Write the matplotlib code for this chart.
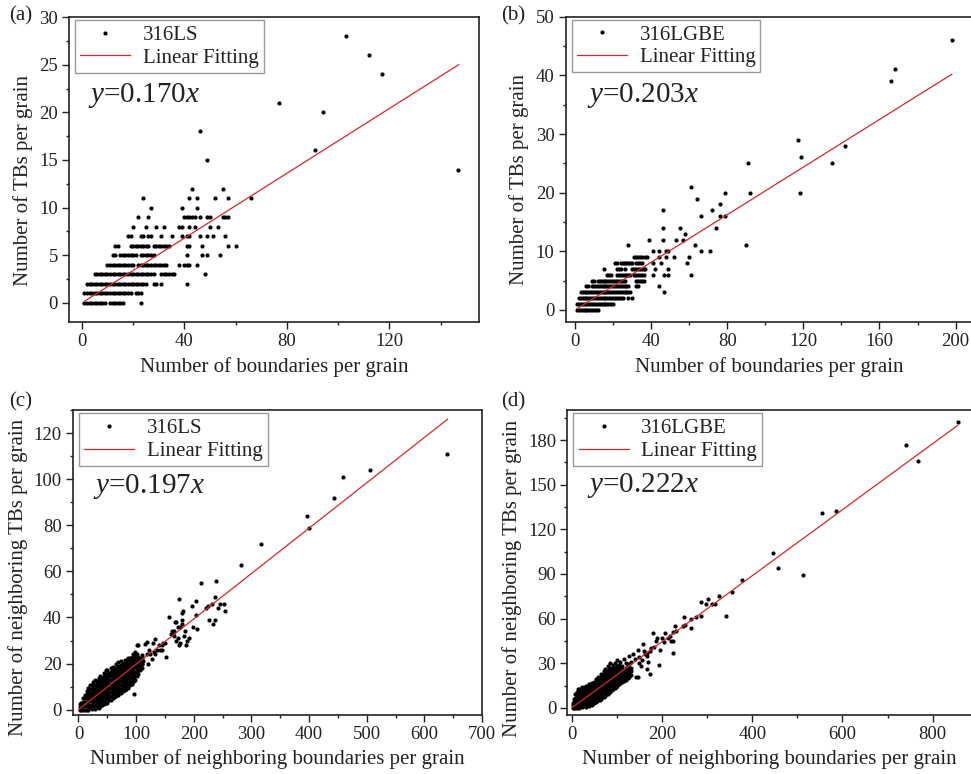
import matplotlib.pyplot as plt
from matplotlib.ticker import MultipleLocator

plt.rcParams['font.family'] = ['Liberation Serif', 'DejaVu Serif']
plt.rcParams['mathtext.fontset'] = 'custom'
plt.rcParams['mathtext.rm'] = 'Liberation Serif'
plt.rcParams['mathtext.it'] = 'Liberation Serif:italic'

# ---- (a) 316LS: TBs vs boundaries (integer counts, x listed per y level) ----
a_levels = [0, 1, 2, 3, 4, 5, 6, 7, 8, 9, 10, 11, 12, 14, 15, 16, 18, 20, 21, 24, 26, 28]
a_x_at_level = [
    [1, 2, 3, 4, 5, 6, 7, 8, 9, 11, 12, 13, 14, 15, 16, 23],
    [1, 2, 3, 4, 5, 6, 7, 8, 9, 10, 11, 12, 13, 14, 15, 16, 17, 18, 19, 21, 22, 23],
    [2, 3, 4, 5, 6, 7, 8, 9, 10, 11, 12, 13, 14, 15, 16, 17, 18, 19, 20, 21, 22, 23, 24, 25, 28, 29, 31, 41],
    [5, 6, 7, 8, 9, 10, 11, 12, 13, 14, 15, 16, 17, 18, 19, 20, 21, 22, 23, 24, 25, 26, 27, 28, 31, 32, 33, 34, 35, 36, 48],
    [10, 11, 12, 13, 14, 15, 16, 17, 18, 19, 20, 22, 23, 24, 25, 26, 27, 28, 29, 30, 31, 32, 33, 38, 40, 41, 42, 45],
    [12, 13, 15, 16, 17, 18, 19, 20, 21, 23, 24, 25, 26, 27, 28, 41, 47, 49, 54],
    [13, 14, 19, 20, 21, 22, 23, 24, 25, 26, 28, 29, 30, 31, 32, 33, 34, 41, 42, 47, 57, 60],
    [18, 19, 23, 24, 26, 27, 31, 35, 39, 41, 42, 46, 49, 51, 56],
    [20, 25, 29, 32, 38, 39, 42, 44, 50, 53],
    [22, 26, 40, 41, 42, 43, 44, 46, 49, 50, 55, 56, 57],
    [27, 39, 45],
    [24, 42, 45, 52, 57, 66],
    [43, 55],
    [147],
    [49],
    [91],
    [46],
    [94],
    [77],
    [117],
    [112],
    [103],
]
a_slope = 0.170
a_fit_x = [1, 147]

# ---- (b) 316LGBE: TBs vs boundaries ----
b_levels = [0, 1, 2, 3, 4, 5, 6, 7, 8, 9, 10, 11, 12, 13, 14, 16, 17, 18, 19, 20, 21, 25, 26, 28, 29, 39, 41, 46]
b_x_at_level = [
    [1, 2, 3, 4, 5, 6, 7, 8, 9, 10, 11, 12],
    [1, 2, 3, 4, 5, 6, 7, 8, 9, 10, 11, 12, 13, 14, 15, 16, 17, 18, 19, 20],
    [2, 3, 4, 5, 6, 7, 8, 9, 10, 11, 12, 13, 14, 15, 16, 17, 18, 19, 20, 21, 22, 23, 24, 25, 28, 30],
    [3, 4, 5, 6, 7, 8, 9, 10, 11, 12, 13, 14, 15, 16, 17, 18, 19, 20, 21, 22, 23, 24, 25, 26, 27, 28, 29, 47],
    [6, 7, 9, 10, 11, 12, 13, 14, 15, 16, 17, 18, 19, 20, 21, 22, 23, 24, 25, 26, 27, 28, 32, 33, 44],
    [9, 10, 12, 13, 14, 15, 16, 17, 18, 19, 20, 21, 22, 23, 24, 25, 26, 32, 33, 34, 35, 36],
    [17, 18, 19, 22, 23, 24, 25, 26, 27, 28, 29, 31, 32, 33, 34, 35, 36, 41, 47, 49, 61],
    [15, 22, 23, 24, 26, 30, 31, 32, 33, 34, 35, 36, 37, 42, 49],
    [21, 22, 24, 25, 26, 27, 28, 29, 30, 32, 33, 34, 35, 41, 45, 59],
    [31, 32, 33, 34, 35, 37, 38, 44, 48, 52, 60],
    [41, 44, 48, 49, 66, 71],
    [28, 63, 90],
    [39, 46, 53, 57],
    [58],
    [46, 55, 74],
    [66, 76, 79],
    [46, 72],
    [76],
    [64],
    [79, 92, 118],
    [61],
    [91, 135],
    [119],
    [142],
    [117],
    [166],
    [168],
    [198],
]
b_slope = 0.203
b_fit_x = [1, 198]

# ---- (c) 316LS: neighboring TBs vs neighboring boundaries ----
c_col_x = [2, 5, 8, 11, 14, 17, 20, 23, 26, 29, 32, 35, 38, 41, 44, 47, 50, 53, 56,
           59, 62, 65, 68, 71, 74, 77, 80, 83, 86, 89, 92, 95, 98, 101, 104, 107, 110]
c_col_y = [
    [0, 1.2, 2.3],
    [0, 1.4, 3],
    [0, 1.6, 3.3, 5],
    [0, 1.6, 3.2, 4.9, 6.5],
    [0, 1.7, 3.3, 5, 6.6, 8],
    [0, 1.8, 3.5, 5.3, 7, 8.2, 9.2],
    [0.5, 2.2, 4, 5.7, 7.4, 9, 10.5],
    [0.2, 1.9, 3.6, 5.4, 7.1, 8.8, 10.8],
    [0.5, 2.3, 4, 5.8, 7.5, 9.2, 10.7, 12],
    [0.3, 2, 3.8, 5.5, 7.2, 9, 10.6, 12.8],
    [1, 2.7, 4.5, 6.2, 7.9, 9.6, 11.2, 12.5],
    [0.5, 2.2, 4, 5.7, 7.4, 9.1, 10.8, 12.4, 13.8],
    [1.5, 3.2, 5, 6.7, 8.4, 10.1, 11.8, 13.3, 14.5],
    [2, 3.7, 5.5, 7.2, 8.9, 10.6, 12.2, 13.5],
    [2.5, 4.2, 6, 7.7, 9.4, 11.1, 12.8, 14.5, 16],
    [3, 4.8, 6.5, 8.2, 9.9, 11.6, 13.3, 15, 17],
    [3, 4.9, 6.7, 8.5, 10.2, 12, 13.7, 15.5, 17.2],
    [4, 5.8, 7.5, 9.2, 11, 12.7, 14.4, 15.8],
    [4.2, 6, 7.8, 9.5, 11.3, 13, 14.7, 16.4, 18],
    [5, 6.8, 8.5, 10.2, 12, 13.7, 15.4, 17, 18.5],
    [5.5, 7.3, 9, 10.8, 12.5, 14.2, 15.9, 17.5],
    [6, 7.8, 9.5, 11.3, 13, 14.7, 16.4, 18.2, 20],
    [6.2, 8, 9.8, 11.5, 13.3, 15, 16.8, 18.6, 20.5],
    [7, 8.8, 10.5, 12.3, 14, 15.7, 17.4, 19],
    [7.2, 9, 10.8, 12.6, 14.3, 16, 17.7, 19.4, 21],
    [8, 9.8, 11.5, 13.3, 15, 16.7, 18.4, 20],
    [8.5, 10.3, 12, 13.8, 15.5, 17.2, 19, 20.5, 21.5],
    [9, 10.8, 12.6, 14.3, 16, 17.8, 19.5, 21],
    [9.5, 11.3, 13, 14.8, 16.5, 18.2, 20, 21.5, 22.5],
    [10.5, 12.3, 14, 15.7, 17.5, 19.2, 21, 22.2],
    [11, 12.8, 14.5, 16.3, 18, 19.7, 21.4, 23],
    [12, 13.8, 15.6, 17.3, 19, 20.7, 22.4, 24],
    [13, 14.8, 16.5, 18.3, 20, 21.7, 23.4, 25],
    [14.5, 16.3, 18, 19.8, 21.5, 23, 24],
    [15.5, 17.3, 19, 20.8, 23],
    [17, 18.8, 20.5, 22],
    [18, 20, 21.8, 23.5],
]
c_sparse_x = [96, 101, 104, 107, 110, 110, 112, 116, 118, 119, 121, 122, 124, 127, 130, 131, 132,
              133, 136, 139, 141, 145, 145, 147, 150, 152, 157, 160, 162, 164, 166, 166, 168, 170,
              170, 172, 173, 174, 175, 176, 176, 179, 180, 180, 181, 183, 184, 186, 188, 191, 197,
              198, 203, 204, 206, 212, 222, 225, 226, 232, 233, 237, 237, 238, 242, 246, 253, 254,
              282, 317, 396, 400, 444, 459, 506, 640]
c_sparse_y = [6.8, 28, 28, 19, 20, 23, 21, 28.5, 24, 29.5, 20, 26, 24, 22, 29, 25, 30.5,
              24, 26, 28, 26, 26, 28, 29, 29, 23, 40, 33, 34, 33, 34, 32, 38, 38,
              30, 36, 31, 48, 28, 36, 29, 37, 39, 42, 43, 32, 34, 28, 30, 31, 45,
              36, 41, 47, 35, 55, 44, 45, 39, 46, 37, 49, 39, 56, 44, 46, 46, 43,
              63, 72, 84, 79, 92, 101, 104, 111]
c_slope = 0.197
c_fit_x = [0, 640]

# ---- (d) 316LGBE: neighboring TBs vs neighboring boundaries ----
d_col_x = [2, 5, 8, 11, 14, 17, 20, 23, 26, 29, 32, 35, 38, 41, 44, 47, 50, 53, 56, 59, 62,
           65, 68, 71, 74, 77, 80, 83, 86, 89, 92, 95, 98, 101, 104, 108, 112, 116, 120, 124,
           128, 132]
d_col_y = [
    [0, 1.8, 3.5],
    [0, 2, 4, 6],
    [0, 2.2, 4.4, 6.6, 9],
    [0, 2.2, 4.4, 6.6, 8.8, 11],
    [0.5, 2.7, 4.9, 7.1, 9.3, 11, 12.5],
    [0, 2.2, 4.4, 6.6, 8.8, 11, 12.5],
    [1, 3.2, 5.4, 7.6, 9.8, 12, 13],
    [0.5, 2.7, 4.9, 7.1, 9.3, 11.5, 14],
    [1, 3.2, 5.4, 7.6, 9.8, 12, 13.5],
    [1.5, 3.7, 5.9, 8.1, 10.3, 12.5, 14],
    [0.5, 2.7, 4.9, 7.1, 9.3, 11.5, 13.5, 15],
    [2, 4.2, 6.4, 8.6, 10.8, 13, 15],
    [1.5, 3.7, 5.9, 8.1, 10.3, 12.5, 14.5, 16],
    [2.5, 4.7, 6.9, 9.1, 11.3, 13.5, 16],
    [2, 4.2, 6.4, 8.6, 10.8, 13, 15.2, 17],
    [3, 5.2, 7.4, 9.6, 11.8, 14, 16.5],
    [3, 5.2, 7.4, 9.6, 11.8, 14, 16, 17.5],
    [4, 6.2, 8.4, 10.6, 12.8, 15, 17, 19.5],
    [4.5, 6.7, 8.9, 11.1, 13.3, 15.5, 17.5, 18.5],
    [5, 7.2, 9.4, 11.6, 13.8, 16, 18, 19.5, 21],
    [5.5, 7.7, 9.9, 12.1, 14.3, 16.5, 18.5, 20],
    [6, 8.2, 10.4, 12.6, 14.8, 17, 19, 21, 23],
    [7, 9.2, 11.4, 13.6, 15.8, 18, 20, 21.5],
    [7.5, 9.7, 11.9, 14.1, 16.3, 18.5, 20.5, 22.5, 25],
    [8, 10.2, 12.4, 14.6, 16.8, 19, 21, 23.5, 26],
    [9, 11.2, 13.4, 15.6, 17.8, 20, 22, 24.5],
    [9.5, 11.7, 13.9, 16.1, 18.3, 20.5, 22.5, 25, 28],
    [10.5, 12.7, 14.9, 17.1, 19.3, 21.5, 23.5, 26],
    [11, 13.2, 15.4, 17.6, 19.8, 22, 24, 27, 30],
    [12, 14.2, 16.4, 18.6, 20.8, 23, 25, 27],
    [13, 15.2, 17.4, 19.6, 21.8, 24, 26, 28.5],
    [13.5, 15.7, 17.9, 20.1, 22.3, 24.5, 26.5, 30],
    [14, 16.2, 18.4, 20.6, 22.8, 25, 27],
    [15, 17.2, 19.4, 21.6, 23.8, 26, 28, 32],
    [16, 18.2, 20.4, 22.6, 24.8, 27, 29],
    [16.5, 18.7, 20.9, 23.1, 25.3, 27.5, 31],
    [17.5, 19.7, 21.9, 24.1, 26.3, 28],
    [18, 20.5, 23, 25.5, 33],
    [19, 21.5, 24, 27, 30],
    [20, 22.5, 25, 28],
    [21, 24, 26, 29.5, 35],
    [22, 25, 27, 31],
]
d_sparse_x = [136, 140, 142, 146, 147, 149, 150, 153, 156, 158, 160, 163, 166, 168, 168, 170,
              173, 174, 176, 180, 183, 186, 190, 194, 196, 200, 204, 207, 213, 218, 220, 224,
              225, 224, 229, 231, 246, 248, 252, 264, 264, 276, 287, 286, 298, 303, 311, 317,
              326, 343, 356, 377, 446, 457, 513, 554, 585, 741, 767, 856]
d_sparse_y = [36, 33, 21, 39, 21, 30, 34, 28, 32, 43, 38, 36, 35, 37, 26, 31,
              38, 23, 40, 50, 41, 45, 47, 29, 39, 47, 44, 50, 47, 48, 45, 51,
              45, 37, 55, 52, 55, 61, 56, 60, 54, 61, 62, 71, 70, 73, 70, 70,
              75, 62, 78, 86, 104, 94, 89, 131, 132, 177, 166, 192]
d_slope = 0.222
d_fit_x = [0, 855]


def flatten(keys, groups, key_is_y):
    xs, ys = [], []
    for k, g in zip(keys, groups):
        for v in g:
            if key_is_y:
                xs.append(v)
                ys.append(k)
            else:
                xs.append(k)
                ys.append(v)
    return xs, ys


def panel(rect, xs, ys, slope, fit_x, name, eq, letter, xlab, ylab,
          xlim, ylim, xmaj, ymaj, ylab_pos, xlab_y, eq_pos):
    ax = fig.add_axes(rect)
    ax.plot(xs, ys, 'o', ms=3.0, color='black', mew=0, label=name, clip_on=False)
    ax.plot(fit_x, [slope * v for v in fit_x], color='#d8262e', lw=0.9, label='Linear Fitting')
    ax.set_xlim(*xlim)
    ax.set_ylim(*ylim)
    ax.xaxis.set_major_locator(MultipleLocator(xmaj))
    ax.xaxis.set_minor_locator(MultipleLocator(xmaj / 2))
    ax.yaxis.set_major_locator(MultipleLocator(ymaj))
    ax.yaxis.set_minor_locator(MultipleLocator(ymaj / 2))
    ax.tick_params(which='both', direction='out', top=False, right=False, labelsize=13.5,
                   width=1, colors='#222222', labelcolor='#222222')
    ax.tick_params(which='major', length=5, pad=3)
    ax.tick_params(which='minor', length=2.5)
    for s in ax.spines.values():
        s.set_linewidth(1.2)
        s.set_color('#222222')
    ax.set_xlabel(xlab, fontsize=15, color='#222222')
    ax.set_ylabel(ylab, fontsize=15, color='#222222')
    ax.xaxis.set_label_coords(0.5, xlab_y)
    ax.yaxis.set_label_coords(*ylab_pos)
    leg = ax.legend(loc='upper left', bbox_to_anchor=(0.015, 0.99), borderaxespad=0,
                    fontsize=15, numpoints=1, handlelength=2.4, handletextpad=0.6,
                    borderpad=0.25, labelspacing=0.15, fancybox=False, framealpha=1,
                    edgecolor='#999999')
    leg.get_frame().set_linewidth(1.0)
    for t in leg.get_texts():
        t.set_color('#222222')
    ax.text(eq_pos[0], eq_pos[1], eq, transform=ax.transAxes, fontsize=21,
            ha='left', va='center', color='#222222')
    fig.text(letter[1], letter[2], letter[0], fontsize=15, ha='left', va='center',
             color='#222222')
    return ax


fig = plt.figure(figsize=(9.71, 7.74), dpi=100)

ax_x, ax_y = flatten(a_levels, a_x_at_level, True)
panel([0.0711, 0.584, 0.4222, 0.394], ax_x, ax_y, a_slope, a_fit_x, '316LS',
      r'$y$=0.170$x$', ('(a)', 0.009, 0.98), 'Number of boundaries per grain',
      'Number of TBs per grain', (-5, 155), (-2, 30), 40, 5, (-0.088, 0.463), -0.115,
      (0.046, 0.744))

bx_x, bx_y = flatten(b_levels, b_x_at_level, True)
panel([0.5826, 0.5844, 0.4184, 0.394], bx_x, bx_y, b_slope, b_fit_x, '316LGBE',
      r'$y$=0.203$x$', ('(b)', 0.516, 0.98), 'Number of boundaries per grain',
      'Number of TBs per grain', (-4.9, 208.6), (-2, 50), 40, 10, (-0.090, 0.465), -0.115,
      (0.052, 0.743))

cx, cy = flatten(c_col_x, c_col_y, False)
cx += c_sparse_x
cy += c_sparse_y
panel([0.0749, 0.0758, 0.4215, 0.3941], cx, cy, c_slope, c_fit_x, '316LS',
      r'$y$=0.197$x$', ('(c)', 0.009, 0.481), 'Number of neighboring boundaries per grain',
      'Number of neighboring TBs per grain', (-10, 700), (-2.5, 130), 100, 20,
      (-0.110, 0.451), -0.11, (0.05, 0.749))

dx, dy = flatten(d_col_x, d_col_y, False)
dx += d_sparse_x
dy += d_sparse_y
panel([0.5842, 0.0758, 0.4168, 0.3941], dx, dy, d_slope, d_fit_x, '316LGBE',
      r'$y$=0.222$x$', ('(d)', 0.516, 0.481), 'Number of neighboring boundaries per grain',
      'Number of neighboring TBs per grain', (-9.8, 887), (-5, 200), 200, 30,
      (-0.111, 0.448), -0.11, (0.048, 0.754))

fig.savefig('out.png', dpi=100)
